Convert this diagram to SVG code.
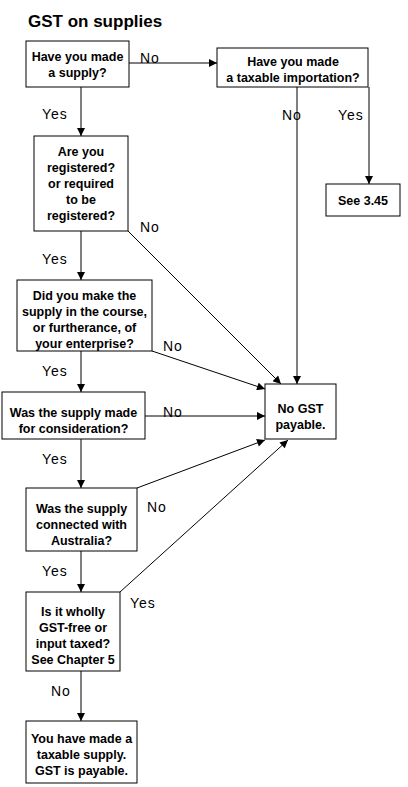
<svg xmlns="http://www.w3.org/2000/svg" width="408" height="787" viewBox="0 0 408 787">
<style>
.box{fill:#fff;stroke:#000;stroke-width:1}
.t{font-family:"Liberation Sans",Arial,sans-serif;font-weight:bold;font-size:12.5px;text-anchor:middle;fill:#000}
.lbl{font-family:"Liberation Sans",Arial,sans-serif;font-size:14px;letter-spacing:1px;fill:#000}
.c{stroke:#000;stroke-width:1;fill:none;marker-end:url(#ah)}
</style>
<defs>
<marker id="ah" viewBox="0 0 10 10" refX="10" refY="5" markerWidth="10" markerHeight="8" markerUnits="userSpaceOnUse" orient="auto">
<path d="M0,0 L10,5 L0,10 z" fill="#000"/>
</marker>
</defs>
<rect width="408" height="787" fill="#fff"/>
<text x="28" y="27" font-family="Liberation Sans,Arial,sans-serif" font-weight="bold" font-size="17">GST on supplies</text>

<g id="connectors">
<line class="c" x1="129" y1="63" x2="217" y2="63"/>
<line class="c" x1="81" y1="87" x2="81" y2="136"/>
<line class="c" x1="297" y1="87" x2="297" y2="384"/>
<line class="c" x1="369" y1="87" x2="369" y2="184"/>
<line class="c" x1="128" y1="231" x2="281" y2="384"/>
<line class="c" x1="81" y1="231" x2="81" y2="280"/>
<line class="c" x1="152" y1="351" x2="265" y2="389"/>
<line class="c" x1="81" y1="351" x2="81" y2="392"/>
<line class="c" x1="145" y1="416" x2="265" y2="416"/>
<line class="c" x1="81" y1="439" x2="81" y2="488"/>
<line class="c" x1="137" y1="488" x2="265" y2="440"/>
<line class="c" x1="81" y1="551" x2="81" y2="592"/>
<line class="c" x1="120" y1="592" x2="288" y2="440"/>
<line class="c" x1="81" y1="671" x2="81" y2="721"/>
<text class="lbl" x="140" y="63">No</text>
<text class="lbl" x="42" y="119">Yes</text>
<text class="lbl" x="282" y="120">No</text>
<text class="lbl" x="338" y="120">Yes</text>
<text class="lbl" x="140" y="232">No</text>
<text class="lbl" x="42" y="264">Yes</text>
<text class="lbl" x="163" y="351">No</text>
<text class="lbl" x="42" y="376">Yes</text>
<text class="lbl" x="163" y="417">No</text>
<text class="lbl" x="42" y="464">Yes</text>
<text class="lbl" x="147" y="512">No</text>
<text class="lbl" x="42" y="576">Yes</text>
<text class="lbl" x="130" y="608">Yes</text>
<text class="lbl" x="51" y="696">No</text>
</g>

<g id="n1"><rect class="box" x="26" y="41" width="103" height="46"/>
<text class="t" x="77.5" y="61">Have you made</text><text class="t" x="77.5" y="77">a supply?</text></g>

<g id="n2"><rect class="box" x="217" y="48" width="151" height="39"/>
<text class="t" x="293" y="66">Have you made</text><text class="t" x="293" y="82">a taxable importation?</text></g>

<g id="n3"><rect class="box" x="34" y="136" width="94" height="95"/>
<text class="t" x="81" y="156">Are you</text><text class="t" x="81" y="172">registered?</text><text class="t" x="81" y="188">or required</text><text class="t" x="81" y="204">to be</text><text class="t" x="81" y="220">registered?</text></g>

<g id="n4"><rect class="box" x="17" y="280" width="135" height="71"/>
<text class="t" x="84.5" y="300">Did you make the</text><text class="t" x="84.5" y="316">supply in the course,</text><text class="t" x="84.5" y="332">or furtherance, of</text><text class="t" x="84.5" y="348">your enterprise?</text></g>

<g id="n5"><rect class="box" x="2" y="392" width="143" height="47"/>
<text class="t" x="73.5" y="417">Was the supply made</text><text class="t" x="73.5" y="433">for consideration?</text></g>

<g id="n6"><rect class="box" x="265" y="384" width="71" height="55"/>
<text class="t" x="300.5" y="413">No GST</text><text class="t" x="300.5" y="429">payable.</text></g>

<g id="n7"><rect class="box" x="326" y="184" width="74" height="32"/>
<text class="t" x="363" y="205">See 3.45</text></g>

<g id="n8"><rect class="box" x="26" y="488" width="111" height="63"/>
<text class="t" x="81.5" y="513">Was the supply</text><text class="t" x="81.5" y="529">connected with</text><text class="t" x="81.5" y="545">Australia?</text></g>

<g id="n9"><rect class="box" x="26" y="592" width="94" height="79"/>
<text class="t" x="73" y="616">Is it wholly</text><text class="t" x="73" y="632">GST-free or</text><text class="t" x="73" y="648">input taxed?</text><text class="t" x="73" y="664">See Chapter 5</text></g>

<g id="n10"><rect class="box" x="26" y="721" width="111" height="62"/>
<text class="t" x="81.5" y="743">You have made a</text><text class="t" x="81.5" y="759">taxable supply.</text><text class="t" x="81.5" y="775">GST is payable.</text></g>
</svg>
